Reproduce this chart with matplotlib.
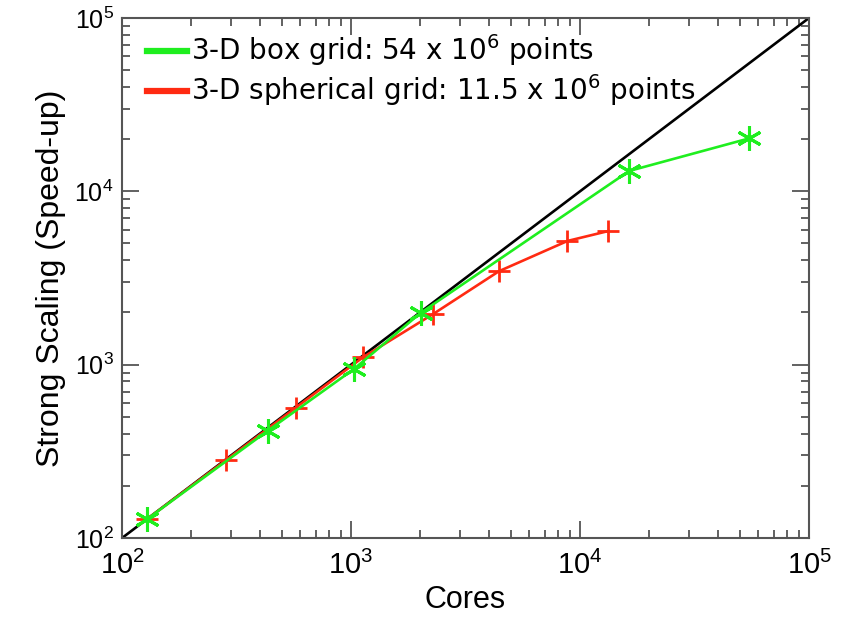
import numpy as np
import matplotlib.pyplot as plt
from matplotlib.ticker import LogLocator, NullFormatter

# box grid (green, asterisks)
box_cores = [128, 432, 1030, 2014, 16384, 54800]
box_speedup = [128, 415, 944, 1990, 13100, 20200]

# spherical grid (red, plus signs)
sph_cores = [128, 284, 575, 1132, 2290, 4426, 8810, 13300]
sph_speedup = [128, 281, 566, 1107, 1964, 3460, 5170, 5900]

ideal = [100, 100000]

box_label = r'3-D box grid: 54 x 10$^6$ points'
sph_label = r'3-D spherical grid: 11.5 x 10$^6$ points'

green = '#1fee1f'
red = '#ff2a12'
axcol = '#555555'

fig = plt.figure(figsize=(8.49, 6.18), dpi=100)
ax = fig.add_axes([0.1437, 0.1294, 0.953 - 0.1437, 0.971 - 0.1294])

ax.plot(ideal, ideal, color='black', lw=1.9, zorder=2)
ax.plot(sph_cores, sph_speedup, color=red, lw=1.9, marker='+', ms=16,
        mew=2.0, zorder=3, label=sph_label)
ax.plot(box_cores, box_speedup, color=green, lw=1.9, marker=(6, 2, 0), ms=18,
        mew=2.2, zorder=4, label=box_label)

ax.set_xscale('log')
ax.set_yscale('log')
ax.set_xlim(100, 100000)
ax.set_ylim(100, 100000)

ax.xaxis.set_major_locator(LogLocator(base=10, numticks=10))
ax.yaxis.set_major_locator(LogLocator(base=10, numticks=10))
ax.xaxis.set_minor_locator(LogLocator(base=10, subs=np.arange(2, 10), numticks=20))
ax.yaxis.set_minor_locator(LogLocator(base=10, subs=np.arange(2, 10), numticks=20))
ax.xaxis.set_minor_formatter(NullFormatter())
ax.yaxis.set_minor_formatter(NullFormatter())

for s in ax.spines.values():
    s.set_color(axcol)
    s.set_linewidth(1.5)

ax.tick_params(which='both', direction='in', top=True, right=True, color=axcol, width=1.3)
ax.tick_params(which='major', length=12)
ax.tick_params(which='minor', length=6)
ax.tick_params(axis='x', labelsize=21, pad=9)
ax.tick_params(axis='y', labelsize=18, pad=6)
for lab in ax.get_xticklabels() + ax.get_yticklabels():
    lab.set_family('Liberation Sans')

ax.set_xlabel('Cores', fontsize=22, family='Liberation Sans', labelpad=4)
ax.set_ylabel('Strong Scaling (Speed-up)', fontsize=23, family='Liberation Sans', labelpad=6)

h, l = ax.get_legend_handles_labels()
leg = ax.legend(h[::-1], l[::-1], loc='upper left', bbox_to_anchor=(0.0, 1.02),
                frameon=False, handlelength=1.45, handletextpad=0.15, labelspacing=0.15,
                prop={'family': 'DejaVu Sans', 'size': 20})
for line in leg.get_lines():
    line.set_linewidth(4.5)
    line.set_marker('')

fig.savefig('out.png', dpi=100)
